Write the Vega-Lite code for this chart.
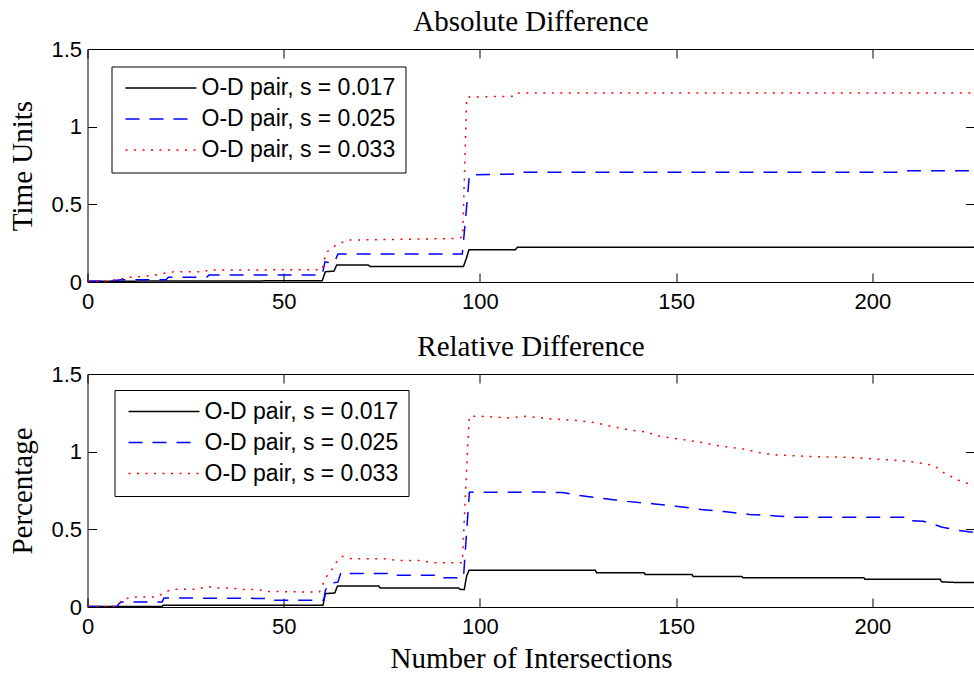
{
  "$schema": "https://vega.github.io/schema/vega-lite/v6.json",
  "padding": {"left": 7.5, "top": 7, "right": 0, "bottom": 0},
  "datasets": {
    "abs": [
      {"s": "0.017", "x": 0, "y": 0.005}, {"s": "0.017", "x": 59.8, "y": 0.008}, {"s": "0.017", "x": 60.6, "y": 0.066}, {"s": "0.017", "x": 62.8, "y": 0.07}, {"s": "0.017", "x": 63.5, "y": 0.11}, {"s": "0.017", "x": 71.5, "y": 0.11}, {"s": "0.017", "x": 72, "y": 0.1}, {"s": "0.017", "x": 95.8, "y": 0.1}, {"s": "0.017", "x": 96.5, "y": 0.15}, {"s": "0.017", "x": 97.2, "y": 0.208}, {"s": "0.017", "x": 109, "y": 0.208}, {"s": "0.017", "x": 109.5, "y": 0.223}, {"s": "0.017", "x": 226, "y": 0.223},
      {"s": "0.025", "x": 0, "y": 0.005}, {"s": "0.025", "x": 5, "y": 0.005}, {"s": "0.025", "x": 8.6, "y": 0.015}, {"s": "0.025", "x": 20, "y": 0.015}, {"s": "0.025", "x": 20.6, "y": 0.03}, {"s": "0.025", "x": 30.3, "y": 0.03}, {"s": "0.025", "x": 31, "y": 0.045}, {"s": "0.025", "x": 59.8, "y": 0.045}, {"s": "0.025", "x": 60.5, "y": 0.13}, {"s": "0.025", "x": 61.5, "y": 0.125}, {"s": "0.025", "x": 62.8, "y": 0.12}, {"s": "0.025", "x": 63.8, "y": 0.18}, {"s": "0.025", "x": 95.5, "y": 0.18}, {"s": "0.025", "x": 96.3, "y": 0.4}, {"s": "0.025", "x": 97.3, "y": 0.69}, {"s": "0.025", "x": 109, "y": 0.695}, {"s": "0.025", "x": 109.6, "y": 0.706}, {"s": "0.025", "x": 207.5, "y": 0.706}, {"s": "0.025", "x": 208, "y": 0.716}, {"s": "0.025", "x": 226, "y": 0.716},
      {"s": "0.033", "x": 0, "y": 0.005}, {"s": "0.033", "x": 5, "y": 0.005}, {"s": "0.033", "x": 8.6, "y": 0.02}, {"s": "0.033", "x": 11, "y": 0.03}, {"s": "0.033", "x": 17.5, "y": 0.045}, {"s": "0.033", "x": 19.8, "y": 0.058}, {"s": "0.033", "x": 22.2, "y": 0.066}, {"s": "0.033", "x": 30, "y": 0.066}, {"s": "0.033", "x": 30.6, "y": 0.077}, {"s": "0.033", "x": 59.8, "y": 0.079}, {"s": "0.033", "x": 60.8, "y": 0.19}, {"s": "0.033", "x": 63.7, "y": 0.245}, {"s": "0.033", "x": 66.7, "y": 0.27}, {"s": "0.033", "x": 94, "y": 0.28}, {"s": "0.033", "x": 95.6, "y": 0.29}, {"s": "0.033", "x": 96.6, "y": 1.19}, {"s": "0.033", "x": 108.8, "y": 1.196}, {"s": "0.033", "x": 109.5, "y": 1.217}, {"s": "0.033", "x": 226, "y": 1.217}
    ],
    "rel": [
      {"s": "0.017", "x": 0, "y": 0.003}, {"s": "0.017", "x": 19, "y": 0.003}, {"s": "0.017", "x": 19.3, "y": 0.011}, {"s": "0.017", "x": 60, "y": 0.011}, {"s": "0.017", "x": 60.6, "y": 0.086}, {"s": "0.017", "x": 63, "y": 0.09}, {"s": "0.017", "x": 63.7, "y": 0.135}, {"s": "0.017", "x": 74.2, "y": 0.135}, {"s": "0.017", "x": 74.6, "y": 0.122}, {"s": "0.017", "x": 94.6, "y": 0.122}, {"s": "0.017", "x": 95, "y": 0.112}, {"s": "0.017", "x": 96, "y": 0.112}, {"s": "0.017", "x": 96.6, "y": 0.2}, {"s": "0.017", "x": 97.2, "y": 0.236}, {"s": "0.017", "x": 129.4, "y": 0.236}, {"s": "0.017", "x": 129.7, "y": 0.221}, {"s": "0.017", "x": 141.8, "y": 0.221}, {"s": "0.017", "x": 142.1, "y": 0.21}, {"s": "0.017", "x": 154, "y": 0.21}, {"s": "0.017", "x": 154.3, "y": 0.197}, {"s": "0.017", "x": 166.7, "y": 0.197}, {"s": "0.017", "x": 167, "y": 0.189}, {"s": "0.017", "x": 197.8, "y": 0.189}, {"s": "0.017", "x": 198.1, "y": 0.178}, {"s": "0.017", "x": 217.3, "y": 0.178}, {"s": "0.017", "x": 217.6, "y": 0.162}, {"s": "0.017", "x": 222, "y": 0.157}, {"s": "0.017", "x": 226, "y": 0.157},
      {"s": "0.025", "x": 0, "y": 0.003}, {"s": "0.025", "x": 7.5, "y": 0.003}, {"s": "0.025", "x": 8, "y": 0.02}, {"s": "0.025", "x": 8.6, "y": 0.032}, {"s": "0.025", "x": 19, "y": 0.032}, {"s": "0.025", "x": 19.5, "y": 0.058}, {"s": "0.025", "x": 47, "y": 0.055}, {"s": "0.025", "x": 47.5, "y": 0.043}, {"s": "0.025", "x": 60.2, "y": 0.043}, {"s": "0.025", "x": 60.6, "y": 0.107}, {"s": "0.025", "x": 61.6, "y": 0.154}, {"s": "0.025", "x": 63.8, "y": 0.16}, {"s": "0.025", "x": 64.6, "y": 0.225}, {"s": "0.025", "x": 66.7, "y": 0.215}, {"s": "0.025", "x": 78, "y": 0.215}, {"s": "0.025", "x": 78.3, "y": 0.204}, {"s": "0.025", "x": 89, "y": 0.204}, {"s": "0.025", "x": 89.3, "y": 0.189}, {"s": "0.025", "x": 95.8, "y": 0.189}, {"s": "0.025", "x": 96.5, "y": 0.45}, {"s": "0.025", "x": 97.3, "y": 0.739}, {"s": "0.025", "x": 108.4, "y": 0.739}, {"s": "0.025", "x": 115, "y": 0.74}, {"s": "0.025", "x": 121, "y": 0.737}, {"s": "0.025", "x": 125.3, "y": 0.718}, {"s": "0.025", "x": 132, "y": 0.697}, {"s": "0.025", "x": 137.5, "y": 0.68}, {"s": "0.025", "x": 143.9, "y": 0.665}, {"s": "0.025", "x": 149.9, "y": 0.649}, {"s": "0.025", "x": 156.3, "y": 0.628}, {"s": "0.025", "x": 162.7, "y": 0.613}, {"s": "0.025", "x": 168.6, "y": 0.596}, {"s": "0.025", "x": 176.3, "y": 0.585}, {"s": "0.025", "x": 180, "y": 0.578}, {"s": "0.025", "x": 209, "y": 0.578}, {"s": "0.025", "x": 209.4, "y": 0.557}, {"s": "0.025", "x": 213, "y": 0.552}, {"s": "0.025", "x": 217.8, "y": 0.514}, {"s": "0.025", "x": 222, "y": 0.493}, {"s": "0.025", "x": 226, "y": 0.48},
      {"s": "0.033", "x": 0, "y": 0.003}, {"s": "0.033", "x": 7.5, "y": 0.003}, {"s": "0.033", "x": 8.7, "y": 0.043}, {"s": "0.033", "x": 11.1, "y": 0.064}, {"s": "0.033", "x": 17.5, "y": 0.064}, {"s": "0.033", "x": 19.4, "y": 0.09}, {"s": "0.033", "x": 21.4, "y": 0.114}, {"s": "0.033", "x": 28, "y": 0.114}, {"s": "0.033", "x": 30.5, "y": 0.133}, {"s": "0.033", "x": 32.8, "y": 0.122}, {"s": "0.033", "x": 37, "y": 0.122}, {"s": "0.033", "x": 39.1, "y": 0.112}, {"s": "0.033", "x": 43.4, "y": 0.112}, {"s": "0.033", "x": 45.9, "y": 0.1}, {"s": "0.033", "x": 59.1, "y": 0.096}, {"s": "0.033", "x": 60.8, "y": 0.193}, {"s": "0.033", "x": 62.4, "y": 0.247}, {"s": "0.033", "x": 63.7, "y": 0.3}, {"s": "0.033", "x": 65, "y": 0.326}, {"s": "0.033", "x": 67.2, "y": 0.311}, {"s": "0.033", "x": 76.4, "y": 0.311}, {"s": "0.033", "x": 78.6, "y": 0.3}, {"s": "0.033", "x": 85.3, "y": 0.3}, {"s": "0.033", "x": 87.5, "y": 0.285}, {"s": "0.033", "x": 95.5, "y": 0.285}, {"s": "0.033", "x": 96.8, "y": 1.0}, {"s": "0.033", "x": 97.3, "y": 1.228}, {"s": "0.033", "x": 100, "y": 1.228}, {"s": "0.033", "x": 107.5, "y": 1.217}, {"s": "0.033", "x": 111.7, "y": 1.228}, {"s": "0.033", "x": 118.5, "y": 1.21}, {"s": "0.033", "x": 125.3, "y": 1.2}, {"s": "0.033", "x": 129.6, "y": 1.185}, {"s": "0.033", "x": 133.8, "y": 1.161}, {"s": "0.033", "x": 138.1, "y": 1.14}, {"s": "0.033", "x": 142.8, "y": 1.125}, {"s": "0.033", "x": 144.9, "y": 1.103}, {"s": "0.033", "x": 151.7, "y": 1.078}, {"s": "0.033", "x": 156.3, "y": 1.06}, {"s": "0.033", "x": 160.5, "y": 1.039}, {"s": "0.033", "x": 166.9, "y": 1.018}, {"s": "0.033", "x": 171.6, "y": 0.992}, {"s": "0.033", "x": 175.8, "y": 0.979}, {"s": "0.033", "x": 184.7, "y": 0.968}, {"s": "0.033", "x": 193.3, "y": 0.964}, {"s": "0.033", "x": 200, "y": 0.954}, {"s": "0.033", "x": 206.8, "y": 0.943}, {"s": "0.033", "x": 211.1, "y": 0.932}, {"s": "0.033", "x": 215.7, "y": 0.911}, {"s": "0.033", "x": 217.9, "y": 0.868}, {"s": "0.033", "x": 222.1, "y": 0.814}, {"s": "0.033", "x": 226, "y": 0.78}
    ]
  },
  "vconcat": [
    {
      "title": {"text": "Absolute Difference"},
      "width": 887,
      "height": 233,
      "layer": [
        {
          "data": {"name": "abs"},
          "mark": {"type": "line", "clip": true, "strokeWidth": 1.5},
          "encoding": {
            "x": {"field": "x", "type": "quantitative", "scale": {"domain": [0, 226], "nice": false, "zero": false}, "axis": {"values": [0, 50, 100, 150, 200], "title": null}},
            "y": {"field": "y", "type": "quantitative", "scale": {"domain": [0, 1.5], "nice": false}, "axis": {"values": [0, 0.5, 1, 1.5], "format": ".2~f", "title": "Time Units"}},
            "color": {"field": "s", "type": "nominal", "scale": {"domain": ["0.017", "0.025", "0.033"], "range": ["#000000", "#0000ff", "#ff0000"]}, "legend": {"legendX": 24, "legendY": 17.5, "labelExpr": "'O-D pair, s = ' + datum.label"}},
            "strokeDash": {"field": "s", "type": "nominal", "scale": {"domain": ["0.017", "0.025", "0.033"], "range": [[1, 0], [14, 10], [2, 6.5]]}, "legend": {"legendX": 24, "legendY": 17.5, "labelExpr": "'O-D pair, s = ' + datum.label"}}
          }
        },
        {
          "data": {"name": "abs"},
          "mark": {"type": "line", "opacity": 0},
          "encoding": {
            "x": {"field": "x", "type": "quantitative", "scale": {"domain": [0, 226], "nice": false, "zero": false}, "axis": {"orient": "top", "labels": false, "title": null, "values": [0, 50, 100, 150, 200]}},
            "y": {"field": "y", "type": "quantitative", "scale": {"domain": [0, 1.5], "nice": false}, "axis": {"orient": "right", "labels": false, "title": null, "values": [0, 0.5, 1, 1.5]}}
          }
        }
      ],
      "resolve": {"axis": {"x": "independent", "y": "independent"}}
    },
    {
      "title": {"text": "Relative Difference"},
      "width": 887,
      "height": 233,
      "layer": [
        {
          "data": {"name": "rel"},
          "mark": {"type": "line", "clip": true, "strokeWidth": 1.5},
          "encoding": {
            "x": {"field": "x", "type": "quantitative", "scale": {"domain": [0, 226], "nice": false, "zero": false}, "axis": {"values": [0, 50, 100, 150, 200], "title": "Number of Intersections"}},
            "y": {"field": "y", "type": "quantitative", "scale": {"domain": [0, 1.5], "nice": false}, "axis": {"values": [0, 0.5, 1, 1.5], "format": ".2~f", "title": "Percentage"}},
            "color": {"field": "s", "type": "nominal", "scale": {"domain": ["0.017", "0.025", "0.033"], "range": ["#000000", "#0000ff", "#ff0000"]}, "legend": {"legendX": 27, "legendY": 16, "labelExpr": "'O-D pair, s = ' + datum.label"}},
            "strokeDash": {"field": "s", "type": "nominal", "scale": {"domain": ["0.017", "0.025", "0.033"], "range": [[1, 0], [14, 10], [2, 6.5]]}, "legend": {"legendX": 27, "legendY": 16, "labelExpr": "'O-D pair, s = ' + datum.label"}}
          }
        },
        {
          "data": {"name": "rel"},
          "mark": {"type": "line", "opacity": 0},
          "encoding": {
            "x": {"field": "x", "type": "quantitative", "scale": {"domain": [0, 226], "nice": false, "zero": false}, "axis": {"orient": "top", "labels": false, "title": null, "values": [0, 50, 100, 150, 200]}},
            "y": {"field": "y", "type": "quantitative", "scale": {"domain": [0, 1.5], "nice": false}, "axis": {"orient": "right", "labels": false, "title": null, "values": [0, 0.5, 1, 1.5]}}
          }
        }
      ],
      "resolve": {"axis": {"x": "independent", "y": "independent"}}
    }
  ],
  "resolve": {
    "scale": {"color": "independent", "strokeDash": "independent"},
    "legend": {"color": "independent", "strokeDash": "independent"}
  },
  "config": {
    "concat": {"spacing": 19},
    "view": {"stroke": "black", "strokeWidth": 1},
    "axis": {"domain": false, "grid": false, "ticks": true, "tickSize": -9, "tickColor": "black", "tickWidth": 1, "labelFont": "Liberation Sans", "labelFontSize": 22, "labelColor": "black", "labelFlush": false, "labelOverlap": false, "titleFont": "Liberation Serif", "titleFontSize": 29, "titleFontWeight": "normal", "titleColor": "black"},
    "axisX": {"labelPadding": 18, "titlePadding": 7},
    "axisY": {"labelPadding": 15, "titlePadding": 13.5},
    "title": {"font": "Liberation Serif", "fontSize": 29, "fontWeight": "normal", "color": "black", "baseline": "alphabetic", "offset": 0, "dy": 3},
    "legend": {"orient": "none", "title": null, "symbolType": "stroke", "symbolSize": 5041, "symbolStrokeWidth": 1.5, "clipHeight": 23, "rowPadding": 7, "padding": 10, "symbolOffset": 3, "labelOffset": 4, "labelFont": "Liberation Sans", "labelFontSize": 23, "labelColor": "black", "labelLimit": 400, "strokeColor": "black", "fillColor": "white"}
  }
}
